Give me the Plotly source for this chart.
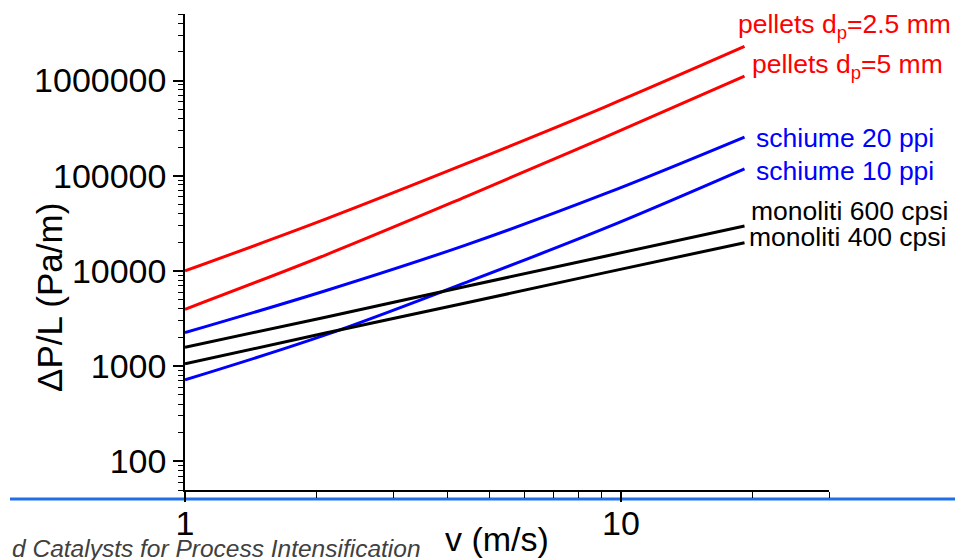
import plotly.graph_objects as go

# ---- data ----
v = [1, 2.1, 4.4, 9.2, 19.2]                       # m/s
pellets_25 = [10000, 35000, 133000, 530000, 2280000]
pellets_5 = [3960, 14700, 60000, 255000, 1110000]
schiume_20 = [2250, 6200, 18700, 64800, 255000]
schiume_10 = [718, 2130, 7530, 28100, 118000]
monoliti_600 = [1580, 3270, 6850, 14300, 29700]
monoliti_400 = [1057, 2230, 4600, 9600, 19800]

labels = ["pellets d<sub>p</sub>=2.5 mm", "pellets d<sub>p</sub>=5 mm",
          "schiume 20 ppi", "schiume 10 ppi",
          "monoliti 600 cpsi", "monoliti 400 cpsi"]
colors = ["#ff0000", "#ff0000", "#0000ff", "#0000ff", "#000000", "#000000"]
series = [pellets_25, pellets_5, schiume_20, schiume_10, monoliti_600, monoliti_400]

y_major = [100, 1000, 10000, 100000, 1000000]
y_major_text = ["100", "1000", "10000", "100000", "1000000"]
y_minor = [m * 10 ** e for e in range(1, 7) for m in range(2, 10)]
x_major = [1, 10]
x_major_text = ["1", "10"]
x_minor = [2, 3, 4, 5, 6, 7, 8, 9, 20, 30]

W, H = 955, 560
X0, X1, Y0, Y1 = 185, 829, 14, 490        # plot area in window pixels
L, T, R, B = X0, Y0, W - X1, H - Y1
PW, PH = X1 - X0, Y1 - Y0


def px(x):
    return (x - X0) / PW


def py(y):
    return (Y1 - y) / PH


fig = go.Figure()
for s, c in zip(series, colors):
    fig.add_trace(go.Scatter(x=v, y=s, mode="lines", line=dict(color=c, width=3),
                             line_shape="spline", showlegend=False, hoverinfo="skip"))

FONT = "Liberation Sans, Arial, sans-serif"

fig.update_xaxes(type="log", range=[0, 1.4771], showgrid=False, zeroline=False,
                 showline=True, linecolor="black", linewidth=1.5,
                 ticks="outside", ticklen=10, tickwidth=1.5, tickcolor="black",
                 tickmode="array", tickvals=x_major, ticktext=x_major_text,
                 ticklabelstandoff=-8,
                 tickfont=dict(family=FONT, size=34, color="black"),
                 minor=dict(ticks="outside", ticklen=6, tickwidth=1.2, tickcolor="black",
                            tickmode="array", tickvals=x_minor, showgrid=False))
fig.update_yaxes(type="log", range=[1.699, 6.699], showgrid=False, zeroline=False,
                 showline=True, linecolor="black", linewidth=1.5,
                 ticks="outside", ticklen=10, tickwidth=1.5, tickcolor="black",
                 tickmode="array", tickvals=y_major, ticktext=y_major_text,
                 tickfont=dict(family=FONT, size=34, color="black"),
                 minor=dict(ticks="outside", ticklen=5, tickwidth=1.2, tickcolor="black",
                            tickmode="array", tickvals=y_minor, showgrid=False))

# series labels (left x, centre y in window pixels)
label_pos = [(736, 26), (750, 66), (754, 138), (754, 171), (749, 211), (747, 237)]
for text, c, (lx, ly) in zip(labels, colors, label_pos):
    fig.add_annotation(text=text, xref="paper", yref="paper", x=px(lx), y=py(ly),
                       xanchor="left", yanchor="middle", showarrow=False,
                       font=dict(family=FONT, size=26.5, color=c))

# axis titles
fig.add_annotation(text="ΔP/L (Pa/m)", xref="paper", yref="paper", x=px(49), y=py(298),
                   xanchor="center", yanchor="middle", textangle=-90, showarrow=False,
                   font=dict(family=FONT, size=35, color="black"))
fig.add_annotation(text="v (m/s)", xref="paper", yref="paper", x=px(497), y=py(539),
                   xanchor="center", yanchor="middle", showarrow=False,
                   font=dict(family=FONT, size=34, color="black"))

# slide footer text
fig.add_annotation(text="<i>d Catalysts for Process Intensification</i>", xref="paper", yref="paper",
                   x=px(10), y=py(533), xanchor="left", yanchor="top", showarrow=False,
                   font=dict(family=FONT, size=24.5, color="#404040"))

# slide separator line
fig.add_shape(type="line", xref="paper", yref="paper", x0=px(10), x1=px(956),
              y0=py(499), y1=py(499), line=dict(color="#1f6fe8", width=3), layer="below")

fig.update_layout(width=W, height=H, margin=dict(l=L, r=R, t=T, b=B, pad=0),
                  paper_bgcolor="white", plot_bgcolor="white")

fig.write_html("out.html", config={"displayModeBar": False},
               post_script="document.body.style.margin='0';document.body.style.overflow='hidden';")
